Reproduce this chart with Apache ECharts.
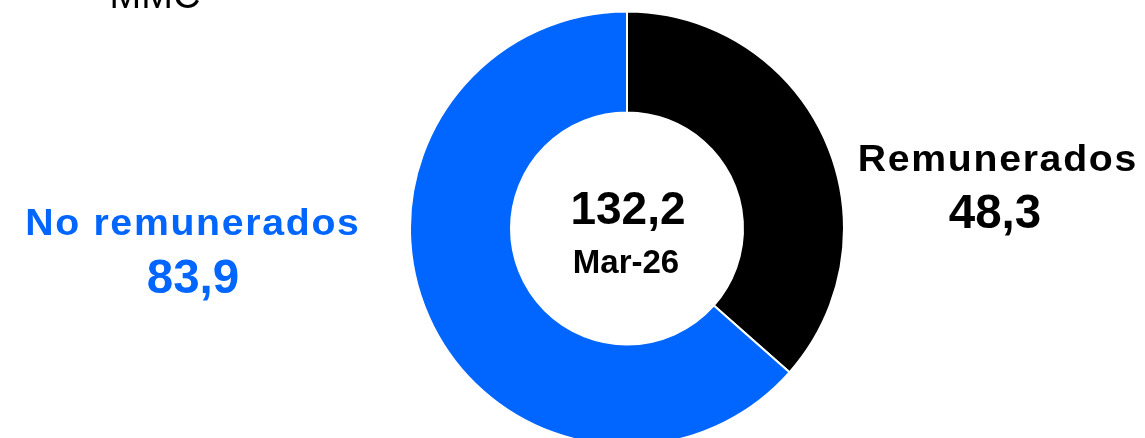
<!DOCTYPE html>
<html>
<head>
<meta charset="utf-8">
<style>
  html, body { margin: 0; padding: 0; background: #ffffff; }
  #chart { width: 1145px; height: 438px; }
</style>
<script src="https://cdn.jsdelivr.net/npm/echarts@6/dist/echarts.min.js"></script>
</head>
<body>
<div id="chart"></div>
<script>
// ---- data ----
const categories = ['Remunerados', 'No remunerados'];
const values = [48.3, 83.9];
const sliceColors = ['#000000', '#0066FF'];
const totalValue = 132.2;
const periodLabel = 'Mar-26';
const titleText = 'MMC';

const fmt = v => v.toFixed(1).replace('.', ',');
// letter-spaced text: every character becomes a rich token with side padding
const spaced = s => s.split('').map(ch => '{c|' + ch + '}').join('');

const chart = echarts.init(document.getElementById('chart'), null, { renderer: 'canvas' });

// label anchor positions (name line / value line), per slice
const namePos = [{ x: 997, y: 179 }, { x: 192, y: 243 }];
const valuePos = [{ x: 995, y: 239 }, { x: 193, y: 304 }];

const FONT = '"Liberation Sans", Arial, sans-serif';

chart.setOption({
  animation: false,
  backgroundColor: '#ffffff',
  graphic: [
    {
      type: 'text', x: 155, y: 16.5,
      style: {
        text: titleText, fill: '#000000', align: 'center', verticalAlign: 'bottom',
        font: 'normal 38px ' + FONT
      }
    },
    {
      type: 'text', x: 628, y: 234.5,
      style: {
        text: fmt(totalValue), fill: '#000000', align: 'center', verticalAlign: 'bottom',
        font: 'bold 46px ' + FONT
      }
    },
    {
      type: 'text', x: 626, y: 280,
      style: {
        text: periodLabel, fill: '#000000', align: 'center', verticalAlign: 'bottom',
        font: 'bold 33px ' + FONT
      }
    }
  ].concat(categories.map((c, i) => ({
    type: 'text', x: namePos[i].x, y: namePos[i].y, scaleX: 1.06,
    style: {
      text: spaced(c), align: 'center', verticalAlign: 'bottom',
      rich: {
        c: {
          fill: sliceColors[i], fontFamily: FONT, fontWeight: 'bold', fontSize: 37,
          lineHeight: 37, padding: [0, 0.8, 0, 0.8]
        }
      }
    }
  }))),
  series: [{
    type: 'pie',
    center: [627, 228.5],
    radius: [116, 217],
    startAngle: 90,
    clockwise: true,
    avoidLabelOverlap: false,
    itemStyle: { borderColor: '#ffffff', borderWidth: 2 },
    emphasis: { disabled: true },
    labelLine: { show: false },
    label: {
      show: true,
      position: 'outside',
      formatter: p => fmt(p.value),
      fontFamily: FONT,
      fontWeight: 'bold',
      fontSize: 47.5
    },
    labelLayout: function (params) {
      const p = valuePos[params.dataIndex];
      return { x: p.x, y: p.y, align: 'center', verticalAlign: 'bottom' };
    },
    data: categories.map((c, i) => ({
      name: c,
      value: values[i],
      itemStyle: { color: sliceColors[i] },
      label: { color: sliceColors[i] }
    }))
  }]
});
</script>
</body>
</html>
